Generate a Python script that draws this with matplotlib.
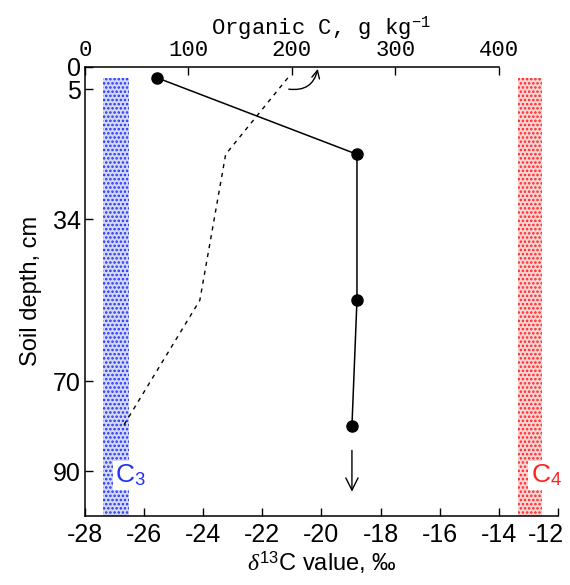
import matplotlib
matplotlib.use("Agg")
import matplotlib.pyplot as plt
import matplotlib.transforms as mtransforms
from matplotlib.patches import Rectangle

# ── Data ──────────────────────────────────────────────────────────────────────
DEPTH = [2.5, 19.5, 52, 80]                 # cm, layer midpoints
DELTA13C = [-25.55, -18.8, -18.8, -18.97]   # per mil
ORGANIC_C = [196, 136, 111, 37]             # g/kg

DEPTH_TICKS = [0, 5, 34, 70, 90]
DELTA_TICKS = list(range(-28, -11, 2))
ORGC_TICKS = [0, 100, 200, 300, 400]

C3_RANGE = (-27.4, -26.5)
C4_RANGE = (-13.35, -12.55)
BAND_TOP = 2.5

plt.rcParams["font.family"] = ["Liberation Sans", "DejaVu Sans"]
plt.rcParams["mathtext.fontset"] = "custom"
plt.rcParams["mathtext.rm"] = "Liberation Sans"
plt.rcParams["mathtext.it"] = "Liberation Serif:italic"
plt.rcParams["mathtext.tt"] = "Liberation Mono"
plt.rcParams["hatch.linewidth"] = 1.2

XMIN, XMAX = -28, -12
YMAX = 100

fig = plt.figure(figsize=(5.7, 5.85), dpi=100)
ax = fig.add_axes([0.149, 0.118, 0.830, 0.768])

# C3 / C4 reference bands
for (x0, x1), col, fc, label in [
    (C3_RANGE, "#2233ee", "#d4d8fa", r"C$_3$"),
    (C4_RANGE, "#ff2222", "#fbd4d4", r"C$_4$"),
]:
    ax.add_patch(Rectangle((x0, BAND_TOP), x1 - x0, YMAX - BAND_TOP,
                           facecolor=fc, edgecolor=col, hatch="....",
                           linewidth=0, zorder=1))
    ax.text(x0 + 0.42, 91, label, color=col, fontsize=19, ha="left",
            va="center", zorder=3,
            bbox=dict(fc="white", ec="none", pad=1.5))

# delta13C profile
ax.plot(DELTA13C, DEPTH, color="black", lw=1.1, marker="o", ms=8, zorder=4)
ax.annotate("", xy=(DELTA13C[-1], 94.6), xytext=(DELTA13C[-1], 85.4),
            arrowprops=dict(arrowstyle="->", lw=1, color="black",
                            mutation_scale=22, shrinkA=0, shrinkB=0))

ax.set_xlim(XMIN, XMAX)
ax.set_ylim(YMAX, 0)
ax.set_xticks(DELTA_TICKS)
ax.set_xticklabels([str(t) for t in DELTA_TICKS])
ax.set_yticks(DEPTH_TICKS)
ax.tick_params(axis="both", direction="in", length=6, width=1, labelsize=18)
ax.tick_params(axis="x", pad=5)
ax.tick_params(axis="y", pad=3)
ax.spines["right"].set_visible(False)
ax.spines["top"].set_visible(False)
for s in ("left", "bottom"):
    ax.spines[s].set_linewidth(1.1)
ax.set_ylabel("Soil depth, cm", fontsize=17, labelpad=8)
ax.set_xlabel("$\\delta^{13}$C value, \u2030", fontsize=17, labelpad=2)

# keep the last bottom label inside the figure
last = ax.get_xticklabels()[-1]
last.set_transform(last.get_transform() +
                   mtransforms.ScaledTranslation(-12 / 100, 0, fig.dpi_scale_trans))

# organic C on the top axis (0-400 spans -28 to -14 of the bottom axis)
ax2 = ax.twiny()
ax2.set_xlim(0, ORGC_TICKS[-1] * (XMAX - XMIN) / (-14 - XMIN))
ax2.plot(ORGANIC_C, DEPTH, color="black", lw=1, ls=(0, (3, 3.5)), zorder=3)
ax2.annotate("", xy=(225, 0.5), xytext=(197, 5),
             arrowprops=dict(arrowstyle="->", lw=1, color="black",
                             connectionstyle="arc3,rad=0.45",
                             mutation_scale=14, shrinkA=0, shrinkB=0))
for s in ("left", "right", "bottom"):
    ax2.spines[s].set_visible(False)
ax2.spines["top"].set_bounds(0, ORGC_TICKS[-1])
ax2.spines["top"].set_linewidth(1.1)
ax2.set_xticks(ORGC_TICKS)
ax2.set_xticklabels([str(t) for t in ORGC_TICKS], family="Liberation Mono",
                    fontsize=16)
ax2.tick_params(axis="x", direction="in", length=6, width=1, pad=4)
ax2.set_xlabel(r"Organic C, g kg$^{\mathtt{-1}}$", family="Liberation Mono",
               fontsize=16, labelpad=4)

fig.savefig("out.png", dpi=100)
